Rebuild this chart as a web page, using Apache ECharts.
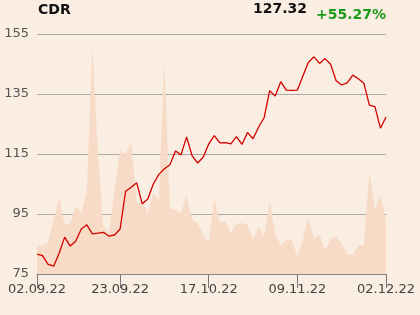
<!DOCTYPE html>
<html>
<head>
<meta charset="utf-8">
<script src="https://cdn.jsdelivr.net/npm/echarts@6/dist/echarts.min.js"></script>
<style>
html,body{margin:0;padding:0;background:#FAEDE1;}
#c{width:420px;height:315px;}
</style>
</head>
<body>
<div id="c"></div>
<script>
var dates = ["02.09.22","05.09.22","06.09.22","07.09.22","08.09.22","09.09.22","12.09.22","13.09.22","14.09.22","15.09.22","16.09.22","19.09.22","20.09.22","21.09.22","22.09.22","23.09.22","26.09.22","27.09.22","28.09.22","29.09.22","30.09.22","03.10.22","04.10.22","05.10.22","06.10.22","07.10.22","10.10.22","11.10.22","12.10.22","13.10.22","14.10.22","17.10.22","18.10.22","19.10.22","20.10.22","21.10.22","24.10.22","25.10.22","26.10.22","27.10.22","28.10.22","31.10.22","02.11.22","03.11.22","04.11.22","07.11.22","08.11.22","09.11.22","10.11.22","14.11.22","15.11.22","16.11.22","17.11.22","18.11.22","21.11.22","22.11.22","23.11.22","24.11.22","25.11.22","28.11.22","29.11.22","30.11.22","01.12.22","02.12.22"];
var prices = [81.6,81.1,78.2,77.6,81.9,87.3,84.3,86.0,90.0,91.4,88.4,88.6,88.9,87.6,88.0,90.0,102.6,103.9,105.4,98.4,100.0,105.0,108.2,110.1,111.4,116.0,114.7,120.7,114.4,112.0,113.9,118.3,121.1,118.7,118.8,118.4,120.8,118.2,122.2,120.1,123.9,127.1,136.1,134.3,139.1,136.3,136.2,136.3,141.0,145.6,147.4,145.2,146.8,144.9,139.4,138.0,138.7,141.3,140.1,138.6,131.3,130.8,123.6,127.32];
var volumes = [29,28,32,54,76,49,51,68,61,82,227,121,47,41,84,124,119,131,71,72,61,81,74,213,66,64,61,78,54,51,39,31,76,51,53,41,50,51,49,34,47,37,73,40,29,34,34,17,34,56,35,39,24,34,38,31,19,19,29,29,102,64,79,52];
var yTicks = [75,95,115,135,155];
var labelIdx = [0,15,31,47,63];
var title = "CDR", lastPrice = "127.32", change = "+55.27%";

var chart = echarts.init(document.getElementById('c'), null, {renderer:'canvas'});
chart.setOption({
  backgroundColor:'#FAEDE1',
  animation:false,
  graphic:[
    {type:'text', left:38, top:3, style:{text:title, font:'bold 14px "DejaVu Sans"', fill:'#111'}},
    {type:'text', right:113, top:2, style:{text:lastPrice, font:'bold 14px "DejaVu Sans"', fill:'#111'}},
    {type:'text', right:34, top:8, style:{text:change, font:'bold 14px "DejaVu Sans"', fill:'#1a9a1a'}}
  ],
  grid:{left:37,right:34,top:34,bottom:41},
  xAxis:{
    type:'category', data:dates, boundaryGap:false,
    axisLine:{show:true, lineStyle:{color:'#888', width:1}},
    axisTick:{show:true, length:14, interval:function(i){return labelIdx.indexOf(i)>=0;}, lineStyle:{color:'#777'}},
    axisLabel:{interval:function(i){return labelIdx.indexOf(i)>=0;}, color:'#444', fontSize:13, fontFamily:'DejaVu Sans', margin:9, showMinLabel:true, showMaxLabel:true},
    splitLine:{show:false}
  },
  yAxis:[
    {type:'value', min:75, max:155, interval:20, position:'left',
     axisLine:{show:false}, axisTick:{show:false},
     axisLabel:{color:'#555', fontSize:13, fontFamily:'DejaVu Sans', margin:8},
     splitLine:{show:true, lineStyle:{color:'#aaa', width:1}}},
    {type:'value', min:0, max:240, show:false, splitLine:{show:false}}
  ],
  series:[
    {type:'line', yAxisIndex:1, data:volumes, symbol:'none', lineStyle:{width:0}, areaStyle:{color:'#F7DBC6', opacity:1}, z:1, silent:true},
    {type:'line', yAxisIndex:0, data:prices, symbol:'none', lineStyle:{color:'#D40000', width:1.3}, z:3}
  ]
});
</script>
</body>
</html>
